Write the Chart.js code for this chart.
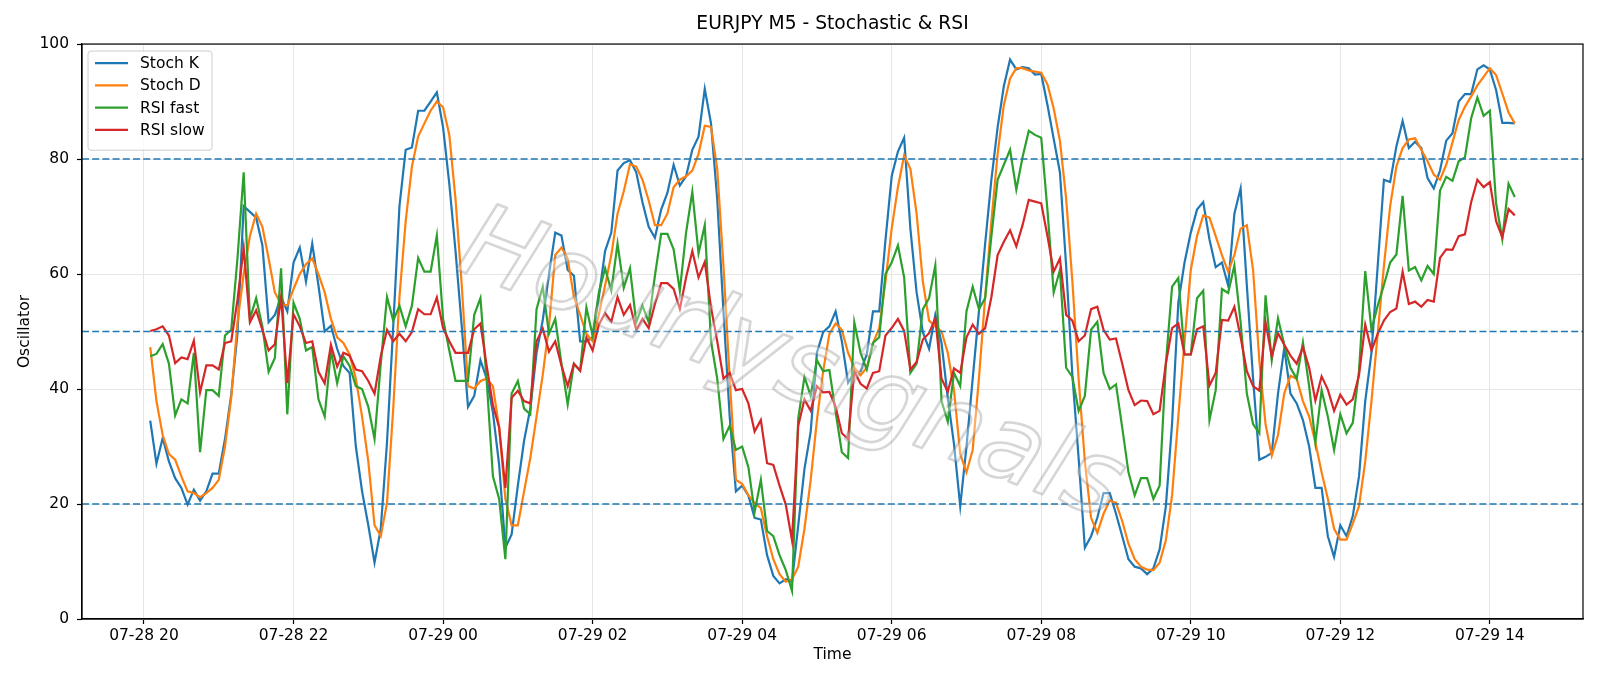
<!DOCTYPE html>
<html lang="en">
<head>
<meta charset="UTF-8">
<title>EURJPY M5 - Stochastic &amp; RSI</title>
<script src="https://cdn.jsdelivr.net/npm/chart.js@4.4.1/dist/chart.umd.min.js"></script>
<style>
    html, body { margin: 0; padding: 0; background: #fff; }
    #wrap { width: 1600px; height: 686px; }
</style>
</head>
<body>
<div id="wrap"><canvas id="oscChart" width="1600" height="686"></canvas></div>

<script>
// M5 bars, first bar 07-28 20:05, x = minutes after 07-28 20:00
const firstBarMinute = 5;
const barStep = 5;

const stochK = [
    34.5, 27, 31.5, 27.4, 24.5, 22.8, 19.9, 22.5, 20.6, 22.2, 25.3, 25.3, 31.3, 39, 49.6, 71.8, 70.8, 69.8, 65, 51.6, 52.9, 56, 53.5, 62, 64.6, 58.7, 65.3, 58, 50, 51, 47,
    44, 42.8, 30, 22.2, 16.3, 9.8, 15.7, 30.7, 50.9, 71.8, 81.6, 82, 88.4, 88.4, 90, 91.6, 85.5, 75.7, 64, 50.9, 36.9, 38.8, 45, 41.8, 35.9, 26.8, 12.4, 14.7, 23.2, 31, 36.6, 46.3,
    52, 60, 67.2, 66.7, 60.7, 59.7, 48.3, 48.3, 49, 56, 64, 67.2, 78, 79.3, 79.8, 77.7, 72.5, 68.2, 66.3, 71.2, 74.1, 79, 75.4, 77, 81.6, 83.9, 92.2, 86.2, 73, 53.5, 35.2, 22.2,
    23.2, 21.5, 17.6, 17.3, 11.1, 7.5, 6.2, 6.9, 6.5, 16.3, 26.1, 32.6, 46.3, 49.9, 50.9, 53.5, 48.3, 41.1, 42.8, 43.1, 46, 53.5, 53.5, 65.9, 77, 81.3, 83.7, 67.9, 56.8, 49.9, 47, 52.9, 48,
    38.5, 30.4, 19.6, 30, 41.8, 53.5, 65.3, 76.4, 85.5, 92.7, 97.3, 95.6, 96, 95.8, 94.7, 94.8, 89.4, 83.5, 77.7, 61.4, 42.4, 28, 12.4, 14.4, 17.6, 21.9, 21.9, 18.3, 14.4, 10.4, 9.1, 8.8,
    7.8, 8.8, 12.1, 19.6, 34, 55, 62, 67.2, 71.2, 72.5, 66, 61.2, 62, 58, 70.5, 74.9, 58, 41.8, 27.7, 28.2, 28.9, 39.2, 47.1, 39.2, 37.5, 34.6, 30, 22.8, 22.8, 14.4, 10.8, 16.3,
    14.4, 17.9, 24.8, 37.9, 46.3, 61.4, 76.4, 76, 82.2, 86.6, 81.9, 83, 81.9, 76.7, 74.9, 78, 83.2, 84.5, 90, 91.3, 91.3, 95.6, 96.3, 95.6, 92, 86.3, 86.3, 86.2
];

const stochD = [
    47.3, 37.9, 32, 28.7, 27.7, 24.8, 22.2, 21.9, 21.2, 21.9, 22.8, 24.2, 30, 38.5, 51.6, 60, 66.6, 70.5, 68.2, 62.7, 56.8, 54.8, 54.5, 57.4, 60, 61.7, 62.7, 60, 56.8, 52.2, 49,
    48, 46, 41.8, 35.2, 27.4, 16.3, 14.4, 20.2, 36.6, 56, 69.2, 78.7, 83.9, 86.2, 88.4, 90, 89, 84.2, 73, 58, 40.5, 40.1, 41.4, 41.8, 40.5, 33.3, 20.9, 16.3, 16.3, 22.2, 28, 35.2,
    42.5, 51, 63.3, 64.6, 62.7, 56, 52.9, 49.6, 48.3, 52.9, 58, 63.3, 70.5, 74.4, 79.1, 78.7, 76.4, 72.8, 68.5, 68.5, 70.5, 75.1, 76.4, 77, 78, 80.9, 85.8, 85.6, 78.3, 61.4, 41.8, 24.2,
    23.5, 21.5, 20.2, 19.3, 14.4, 10.4, 7.8, 6.5, 6.9, 9.1, 15.7, 24.2, 34.6, 43.1, 49.6, 51.4, 50.3, 46.3, 43.7, 42.4, 43.7, 48, 50.6, 58.7, 67.9, 75.1, 80.6, 78.3, 70.5, 58.7, 51.9, 50.9, 50,
    46.3, 39.8, 28.7, 25.5, 29.4, 41.8, 56, 69.2, 80.9, 89.4, 94, 95.8, 95.8, 95.4, 95.2, 95, 93, 88.8, 83.2, 73.1, 58.7, 41.8, 27.4, 17.6, 15, 18.3, 20.6, 20.2, 17, 13.1, 10.4, 9.1,
    8.6, 8.5, 9.8, 13.7, 21.5, 35.2, 48.3, 60.7, 66.6, 70.2, 69.8, 66.6, 63.3, 60.4, 63.3, 67.9, 68.5, 60.7, 45, 33.9, 28.4, 32, 39.2, 42.3, 41.8, 37.9, 35.2, 30.7, 25.5, 20.9, 15.7, 13.8,
    13.8, 16.6, 19.6, 27.4, 37.9, 49.6, 61.4, 71.8, 78.7, 81.9, 83.4, 83.6, 81.6, 79.6, 77.3, 76.4, 79, 82.9, 86.8, 89.1, 90.9, 92.8, 94.3, 95.8, 94.6, 91.4, 88.1, 86.2
];

const rsiFast = [
    45.7, 46.1, 47.8, 44.4, 35.4, 38.2, 37.5, 46.3, 29, 39.8, 39.8, 38.8, 49.3, 50.3, 62.7, 77.7, 52.2, 55.8, 50.9, 43, 45.4, 61, 35.6, 55, 52.2, 46.7, 47.3, 38.2, 35.2, 46.7, 41,
    45.7, 44, 40.5, 40, 36.9, 31.3, 44.4, 56, 51.9, 54.5, 50.9, 54.5, 62.8, 60.4, 60.4, 66.7, 52.2, 46.7, 41.4, 41.4, 41.4, 52.9, 55.8, 41.4, 24.8, 20.9, 10.4, 39.2, 41.4, 36.6, 35.6, 53.9,
    57.8, 49.6, 52.2, 44.4, 37.3, 44.4, 43.2, 54.2, 49.3, 56.8, 61, 57.1, 65.3, 57.6, 61, 51.6, 54.5, 51.6, 59.7, 67, 67, 64.3, 57.1, 67.2, 74.3, 63.6, 68.5, 48.3, 41.8, 31.3, 33.6, 29.4,
    30, 26.4, 18.6, 24.2, 15.3, 14.4, 11.1, 8.5, 4.9, 34.9, 42.1, 38.8, 45, 43.1, 43.3, 36, 29, 28, 51.6, 46.3, 43.4, 48, 49, 60, 62, 65, 59.4, 42.8, 44.4, 53.9, 55.8, 61.5, 37.9,
    34.3, 42.8, 40.5, 53.5, 57.8, 53.9, 55.8, 66.6, 76.4, 79, 81.6, 74.7, 80.3, 84.9, 84.2, 83.7, 71.1, 56.8, 60.7, 43.7, 42.1, 36.2, 38.8, 50.3, 51.7, 42.8, 40, 40.8, 33.3, 25.5, 21.5, 24.5,
    24.5, 20.9, 23.2, 44.4, 57.8, 59.3, 46, 46, 55.8, 57.1, 34.6, 39.8, 57.4, 56.7, 61.5, 51.6, 39.2, 33.9, 32.3, 56.3, 45, 52.3, 47.7, 43.7, 41.8, 48.1, 40.5, 30.7, 39.8, 35.2, 29.4, 35.6,
    32.3, 34.1, 43.1, 60.5, 50.3, 54.5, 58.1, 62, 63.4, 73.6, 60.6, 61.2, 58.9, 61.4, 60, 74.5, 76.9, 76.2, 79.6, 80.3, 87.1, 90.7, 87.5, 88.4, 72.3, 66.1, 75.7, 73.4
];

const rsiSlow = [
    50.1, 50.4, 50.9, 49.3, 44.5, 45.5, 45.2, 48.4, 39.4, 44.1, 44.1, 43.4, 48, 48.3, 55.5, 64.5, 51.6, 53.7, 50.3, 46.7, 47.8, 56, 41, 53, 50.9, 48, 48.3, 43, 41, 47.7, 43.9,
    46.3, 45.8, 43.4, 43.1, 41.4, 39.2, 45.7, 50.3, 48.3, 49.6, 48.3, 49.9, 53.9, 53, 53, 55.9, 50.6, 48.3, 46.3, 46.3, 46.3, 50.4, 51.4, 44, 37.2, 33.3, 22.8, 38.5, 39.7, 37.9, 37.5, 48.3,
    50.5, 46.5, 48.3, 44.1, 40.5, 44.4, 43.2, 49, 46.7, 51.2, 53.2, 51.7, 56, 52.9, 54.6, 50.3, 52.2, 50.6, 54.8, 58.4, 58.4, 57.4, 53.9, 59.4, 64, 59.4, 62.1, 54.2, 48.3, 41.8, 42.8, 39.8,
    40, 37.5, 32.6, 34.6, 27.1, 26.8, 23.2, 19.9, 13.7, 33.6, 38.2, 36.2, 40.5, 39.4, 39.5, 36.9, 32.3, 31.3, 43.1, 40.9, 40.1, 42.8, 43.1, 49.3, 50.6, 52.2, 50.1, 43.4, 44.7, 48.6, 49.7, 52.3, 41.8,
    39.5, 43.6, 42.8, 49, 51.2, 49.6, 50.6, 56, 63.3, 65.6, 67.6, 64.8, 68.5, 72.9, 72.6, 72.3, 66.6, 60.4, 62.7, 52.9, 51.9, 48.3, 49.3, 53.9, 54.3, 50.3, 48.6, 48.8, 44.4, 39.8, 37.2, 38,
    37.9, 35.6, 36.2, 44.4, 50.6, 51.4, 46, 46, 50.4, 50.9, 40.6, 42.8, 52, 51.9, 54.3, 49, 43.1, 40.5, 39.7, 51.6, 45.7, 49.7, 47.7, 45.8, 44.4, 47.3, 43.7, 38, 42.2, 39.9, 36.2, 39,
    37.3, 38.2, 42.4, 51.2, 46.7, 49.6, 51.9, 53.4, 54, 60.4, 54.8, 55.2, 54.3, 55.5, 55.2, 62.8, 64.3, 64.2, 66.6, 66.9, 72.5, 76.4, 75.1, 76, 69.2, 66.4, 71.3, 70.2
];

// x axis ticks every 2 hours (minutes after 07-28 20:00)
const tickMinutes = [0, 120, 240, 360, 480, 600, 720, 840, 960, 1080];
const tickLabels = ['07-28 20', '07-28 22', '07-29 00', '07-29 02', '07-29 04',
                    '07-29 06', '07-29 08', '07-29 10', '07-29 12', '07-29 14'];
const yTicks = [0, 20, 40, 60, 80, 100];
const levels = [20, 50, 80];   // overbought / mid / oversold

const barMinutes = stochK.map((_, i) => firstBarMinute + barStep * i);
// matplotlib style 5% margin on both sides
const span = barMinutes[barMinutes.length - 1] - barMinutes[0];
const xMin = barMinutes[0] - span * 0.05;
const xMax = barMinutes[barMinutes.length - 1] + span * 0.05;

const toPoints = arr => arr.map((v, i) => ({ x: barMinutes[i], y: v }));

const series = [
    { label: 'Stoch K', values: stochK, color: '#1f77b4', order: 4 },
    { label: 'Stoch D', values: stochD, color: '#ff7f0e', order: 3 },
    { label: 'RSI fast', values: rsiFast, color: '#2ca02c', order: 2 },
    { label: 'RSI slow', values: rsiSlow, color: '#d62728', order: 1 }
];

const datasets = series.map(s => ({
    label: s.label,
    data: toPoints(s.values),
    borderColor: s.color,
    backgroundColor: s.color,
    borderWidth: 2.2,
    pointRadius: 0,
    tension: 0,
    fill: false,
    order: s.order
}));

levels.forEach(lv => {
    datasets.push({
        label: 'level ' + lv,
        isLevel: true,
        data: [{ x: xMin, y: lv }, { x: xMax, y: lv }],
        borderColor: '#1f77b4',
        borderWidth: 1.5,
        borderDash: [7, 3.2],
        pointRadius: 0,
        fill: false,
        order: 0
    });
});

// top and right spines (matplotlib box)
const frameBox = {
    id: 'frameBox',
    afterDraw(chart) {
        const { ctx, chartArea: a } = chart;
        ctx.save();
        ctx.strokeStyle = '#000';
        ctx.lineWidth = 1.2;
        ctx.strokeRect(a.left, a.top, a.right - a.left, a.bottom - a.top);
        ctx.restore();
    }
};

// faint rotated watermark over the lines
const watermark = {
    id: 'watermark',
    afterDatasetsDraw(chart) {
        const { ctx, chartArea: a } = chart;
        const text = 'Hourlysignals';
        ctx.save();
        ctx.beginPath();
        ctx.rect(a.left, a.top, a.right - a.left, a.bottom - a.top);
        ctx.clip();
        ctx.translate(a.left + (a.right - a.left) * 0.472, a.top + (a.bottom - a.top) * 0.565);
        ctx.rotate(21 * Math.PI / 180);
        ctx.font = 'italic 100px "DejaVu Sans"';
        const w = ctx.measureText(text).width;
        const size = 100 * 700 / w;
        ctx.font = 'italic ' + size + 'px "DejaVu Sans"';
        ctx.textAlign = 'center';
        ctx.textBaseline = 'middle';
        ctx.fillStyle = 'rgba(255,255,255,0.35)';
        ctx.fillText(text, 0, 0);
        ctx.lineWidth = 2.6;
        ctx.lineJoin = 'round';
        ctx.strokeStyle = 'rgba(120,120,120,0.3)';
        ctx.strokeText(text, 0, 0);
        ctx.restore();
    }
};

// legend box in the upper left of the axes, like matplotlib
const boxLegend = {
    id: 'boxLegend',
    afterDraw(chart) {
        const { ctx, chartArea: a } = chart;
        const items = chart.data.datasets.filter(d => !d.isLevel);
        const x = a.left + 6, y = a.top + 7;
        const w = 124, rowH = 22.3, h = 12 + rowH * items.length - 2;
        ctx.save();
        ctx.beginPath();
        ctx.roundRect(x, y, w, h, 3);
        ctx.fillStyle = 'rgba(255,255,255,0.8)';
        ctx.fill();
        ctx.strokeStyle = '#cccccc';
        ctx.lineWidth = 1;
        ctx.stroke();
        ctx.font = '15.5px "DejaVu Sans"';
        ctx.textBaseline = 'middle';
        items.forEach((d, k) => {
            const ry = y + 12 + rowH * k;
            ctx.beginPath();
            ctx.moveTo(x + 7, ry);
            ctx.lineTo(x + 40, ry);
            ctx.strokeStyle = d.borderColor;
            ctx.lineWidth = 2.2;
            ctx.stroke();
            ctx.fillStyle = '#000';
            ctx.fillText(d.label, x + 52, ry + 1);
        });
        ctx.restore();
    }
};

Chart.defaults.font.family = '"DejaVu Sans", sans-serif';
Chart.defaults.color = '#000';

new Chart(document.getElementById('oscChart').getContext('2d'), {
    type: 'line',
    data: { datasets: datasets },
    options: {
        responsive: false,
        animation: false,
        events: [],
        layout: { padding: { left: 0, right: 17, top: 0, bottom: 0 } },
        plugins: {
            legend: { display: false },
            tooltip: { enabled: false },
            title: {
                display: true,
                text: 'EURJPY M5 - Stochastic & RSI',
                fullSize: false,
                color: '#000',
                font: { size: 18.7, weight: 'normal' },
                padding: { top: 13, bottom: 8.6 }
            }
        },
        scales: {
            x: {
                type: 'linear',
                min: xMin,
                max: xMax,
                afterBuildTicks: scale => { scale.ticks = tickMinutes.map(v => ({ value: v })); },
                afterFit: scale => { scale.height = 67; },
                ticks: {
                    autoSkip: false,
                    maxRotation: 0,
                    padding: 3,
                    font: { size: 15.5 },
                    color: '#000',
                    callback: (value, index) => tickLabels[index]
                },
                grid: {
                    color: '#e6e6e6',
                    lineWidth: 1,
                    drawTicks: true,
                    tickLength: 5,
                    tickColor: '#000',
                    tickWidth: 1.2
                },
                border: { display: true, color: '#000', width: 1.2 },
                title: {
                    display: true,
                    text: 'Time',
                    font: { size: 15.5 },
                    color: '#000',
                    padding: { top: 0, bottom: 21.7 }
                }
            },
            y: {
                min: 0,
                max: 100,
                afterBuildTicks: scale => { scale.ticks = yTicks.map(v => ({ value: v })); },
                afterFit: scale => { scale.width = 82; },
                ticks: {
                    padding: 8,
                    font: { size: 15.5 },
                    color: '#000'
                },
                grid: {
                    color: '#e6e6e6',
                    lineWidth: 1,
                    drawTicks: true,
                    tickLength: 5,
                    tickColor: '#000',
                    tickWidth: 1.2
                },
                border: { display: true, color: '#000', width: 1.2 },
                title: {
                    display: true,
                    text: 'Oscillator',
                    font: { size: 15.5 },
                    color: '#000',
                    padding: { top: 15.7, bottom: 0 }
                }
            }
        }
    },
    plugins: [watermark, frameBox, boxLegend]
});
</script>
</body>
</html>
